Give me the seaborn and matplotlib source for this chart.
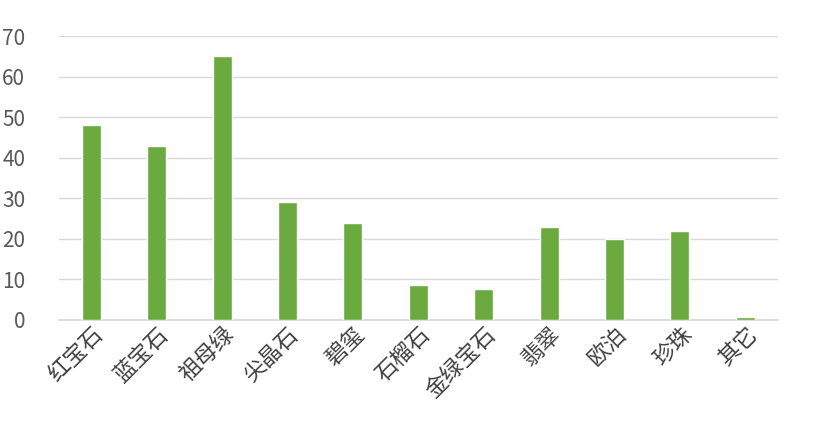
import matplotlib
matplotlib.use("Agg")
import matplotlib.pyplot as plt
import seaborn as sns
import pandas as pd

categories = ["红宝石", "蓝宝石", "祖母绿", "尖晶石", "碧玺", "石榴石", "金绿宝石", "翡翠", "欧泊", "珍珠", "其它"]
values = [48, 43, 65, 29, 24, 8.7, 7.7, 23, 20, 22, 0.8]

sns.set_theme(style="white")
plt.rcParams['font.family'] = ['Noto Sans CJK SC', 'DejaVu Sans']

df = pd.DataFrame({"cat": categories, "val": values})
fig = plt.figure(figsize=(8.13, 4.3), dpi=100)
ax = fig.add_axes([0.072, 0.256, 0.885, 0.66])
sns.barplot(data=df, x="cat", y="val", color="#6aaa3f", saturation=1, width=0.29, ax=ax, zorder=3)
ax.set_ylim(0, 70)
ax.set_yticks(range(0, 71, 10))
ax.set_xlim(-0.5, len(categories) - 0.5)
ax.grid(axis="y", color="#d9d9d9", linewidth=1, zorder=0)
for s in ["top", "right", "left"]:
    ax.spines[s].set_visible(False)
ax.spines["bottom"].set_color("#d9d9d9")
ax.set_xlabel("")
ax.set_ylabel("")
ax.tick_params(axis="y", labelsize=15, colors="#595959", length=0, pad=24)
ax.tick_params(axis="x", labelsize=16, colors="#404040", length=0, pad=2)
plt.setp(ax.get_xticklabels(), rotation=45, ha="right", rotation_mode="anchor")
fig.savefig("out.png", dpi=100)
